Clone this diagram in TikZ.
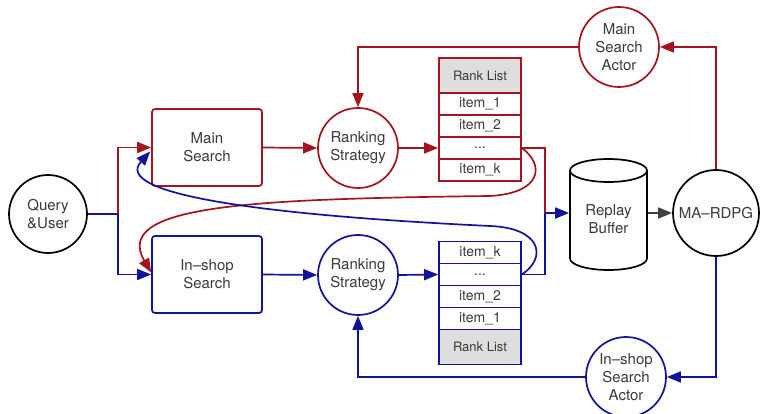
\documentclass[tikz,border=0pt]{standalone}
\usepackage{fontspec}
\setmainfont{TeX Gyre Heros}
\usetikzlibrary{arrows.meta,calc}
\definecolor{redline}{HTML}{A3141C}
\definecolor{blueline}{HTML}{12129A}
\definecolor{txt}{HTML}{3A3A3A}
\definecolor{hdr}{HTML}{DEDEDE}
\begin{document}
\begin{tikzpicture}[x=1pt,y=-1pt,
  line width=1.7pt,
  tip/.style={-{Triangle[length=14pt,width=11pt]}},
  lbl/.style={text=txt,font=\fontsize{15}{18}\selectfont,align=center},
  circ/.style={circle,draw,fill=white,minimum size=#1,inner sep=0pt,lbl},
  box/.style={draw,rounded corners=3pt,minimum width=110pt,minimum height=77pt,inner sep=0pt,lbl},
  cell/.style={draw,minimum width=82pt,minimum height=22pt,inner sep=0pt,text=txt,font=\fontsize{14}{15}\selectfont},
  head/.style={cell,fill=hdr,minimum height=35pt,font=\fontsize{13}{14}\selectfont}]
\useasboundingbox (0,0) rectangle (760,414);

% input and the two search engines
\node[circ=78pt,draw=black] (qu) at (48,214) {Query\\\&User};
\node[box,draw=redline] (ms) at (207,147.5) {Main\\Search};
\node[box,draw=blueline] (is) at (207,274.5) {In--shop\\Search};

% ranking strategies
\node[circ=80pt,draw=redline] (rs1) at (358,148) {Ranking\\Strategy};
\node[circ=80pt,draw=blueline] (rs2) at (358,275) {Ranking\\Strategy};

% rank list of the main search
\begin{scope}[every node/.append style={draw=redline}]
\node[head] (h1) at (480,75.5) {Rank List};
\node[cell] (a1) at (480,104) {item\_1};
\node[cell] (a2) at (480,126) {item\_2};
\node[cell] (a3) at (480,148) {...};
\node[cell] (a4) at (480,170) {item\_k};
\end{scope}

% rank list of the in-shop search
\begin{scope}[every node/.append style={draw=blueline}]
\node[cell] (b4) at (480,252.5) {item\_k};
\node[cell] (b3) at (480,274.5) {...};
\node[cell] (b2) at (480,296.5) {item\_2};
\node[cell] (b1) at (480,318.5) {item\_1};
\node[head] (h2) at (480,347) {Rank List};
\end{scope}

% replay buffer cylinder
\draw[black,fill=white] (570,170.5) -- (570,258.5) arc[start angle=180,end angle=360,x radius=38.5pt,y radius=11.5pt] -- (647,170.5);
\draw[black,fill=white] (608.5,170.5) ellipse[x radius=38.5pt,y radius=11.5pt];
\node[minimum width=77pt,minimum height=60pt,inner sep=0pt] (rb) at (608.5,213) {};
\node[lbl] at (608.5,219) {Replay\\Buffer};

% learner and actors
\node[circ=86pt,draw=black] (ma) at (716,213) {MA--RDPG};
\node[circ=80pt,draw=redline] (act1) at (619,47) {Main\\Search\\Actor};
\node[circ=80pt,draw=blueline] (act2) at (626,377) {In--shop\\Search\\Actor};

% query split
\coordinate (br) at (118,214);
\draw[blueline] (qu.east) -- (br);
\draw[redline,tip] (br) |- (ms.west);
\draw[blueline,tip] (br) |- (is.west);

% search -> strategy -> list
\draw[redline,tip] (ms.east) -- (rs1.west);
\draw[redline,tip] (rs1.east) -- (a3.west);
\draw[blueline,tip] (is.east) -- (rs2.west);
\draw[blueline,tip] (rs2.east) -- (b3.west);

% cross-engine feedback curves
\draw[redline,tip] (a3.east) .. controls (545,165) and (542,193) .. (490,196)
  .. controls (250,199) and (112,205) .. ($(is.west)+(0,-2)$);
\draw[blueline,tip] (b3.east) .. controls (547,258) and (542,228) .. (490,226)
  .. controls (260,215) and (112,194) .. ($(ms.west)+(-1,4)$);

% lists into the replay buffer
\coordinate (jn) at (545,213);
\draw[redline] (a3.east) -| (jn);
\draw[blueline] (b3.east) -| (jn);
\draw[blueline,tip] (jn) -- (rb.west);
\draw[black!75,tip] (rb.east) -- (ma.west);

% actors back to the strategies
\draw[redline,tip] (ma.north) |- (act1.east);
\draw[redline,tip] (act1.west) -| (rs1.north);
\draw[blueline,tip] (ma.south) |- (act2.east);
\draw[blueline,tip] (act2.west) -| (rs2.south);
\end{tikzpicture}
\end{document}
